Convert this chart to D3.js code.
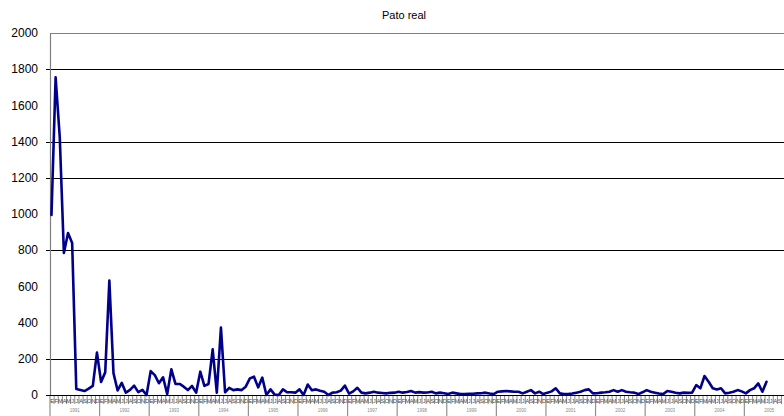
<!DOCTYPE html>
<html><head><meta charset="utf-8">
<script src="https://cdn.jsdelivr.net/npm/d3@7/dist/d3.min.js"></script>
<style>body{margin:0;background:#fff}svg{display:block}</style>
</head><body><svg id="c" width="784" height="416"></svg>
<script>
const title = "Pato real";
const years = ["1991","1992","1993","1994","1995","1996","1997","1998","1999","2000","2001","2002","2003","2004","2005"];
const monthLabels = ["E","F","M","A","M","J","J","A","S","O","N","D"];
const yTicks = [0,200,400,600,800,1000,1200,1400,1600,1800,2000];
const gridValues = [200,800,1200,1400,1800];
const values = [
  995,1755,1425,785,895,840,33,28,22,35,50,234,
  72,125,632,121,25,67,13,28,52,16,28,0,
  132,110,65,98,5,142,61,61,46,27,50,13,
  129,50,61,252,13,372,15,40,27,31,27,46,
  92,101,42,96,0,31,2,0,31,15,15,13,
  31,0,58,26,31,24,18,0,13,15,24,52,
  7,20,40,13,9,13,18,13,11,9,12,13,
  18,13,17,22,13,16,13,14,18,9,13,10,
  5,13,9,5,5,6,7,9,10,13,8,5,
  18,20,22,20,18,18,9,18,27,9,18,5,
  13,20,37,9,5,5,8,13,18,27,31,9,
  10,13,15,18,27,18,27,18,15,13,5,15,
  27,18,13,8,5,22,18,12,9,13,12,13,
  55,37,105,73,37,31,37,9,12,18,27,20,
  9,27,37,64,18,73
];

const svg = d3.select("#c");
const W = 784;
const nMonths = years.length * 12;
const x = d3.scaleLinear().domain([0, nMonths]).range([50, 50 + nMonths * 4.133]);
const y = d3.scaleLinear().domain([0, 2000]).range([395, 33]);

// title
svg.append("text").attr("x", 404).attr("y", 19).attr("text-anchor", "middle")
  .attr("font-family", "Liberation Sans, Arial, sans-serif").attr("font-size", 11)
  .attr("fill", "#000").text(title);

// top border
svg.append("line").attr("x1", 50).attr("x2", W).attr("y1", y(2000)).attr("y2", y(2000))
  .attr("stroke", "#808080").attr("stroke-width", 1).attr("shape-rendering", "crispEdges");

// gridlines
svg.append("g").selectAll("line").data(gridValues).join("line")
  .attr("x1", 46).attr("x2", W).attr("y1", d => Math.round(y(d)) + 0.5).attr("y2", d => Math.round(y(d)) + 0.5)
  .attr("stroke", "#000").attr("stroke-width", 1);

// y axis labels
svg.append("g").selectAll("text").data(yTicks).join("text")
  .attr("x", 38).attr("y", d => y(d)).attr("dy", "0.35em").attr("text-anchor", "end")
  .attr("font-family", "Liberation Sans, Arial, sans-serif").attr("font-size", 12)
  .attr("fill", "#000").text(d => d);

// y axis line
svg.append("line").attr("x1", 50.5).attr("x2", 50.5).attr("y1", y(2000)).attr("y2", 396)
  .attr("stroke", "#808080").attr("stroke-width", 1.2);

// month ticks
const bounds = d3.range(0, nMonths + 1).filter(d => x(d) <= W);
svg.append("g").selectAll("line").data(bounds).join("line")
  .attr("x1", d => x(d)).attr("x2", d => x(d))
  .attr("y1", 395).attr("y2", d => d % 12 === 0 ? 416 : 404)
  .attr("stroke", d => d % 12 === 0 ? "#909090" : "#555")
  .attr("stroke-width", d => d % 12 === 0 ? 1.2 : 0.7);

// month labels
const months = d3.range(nMonths).filter(d => x(d + 0.5) + 2.5 < W);
svg.append("g").selectAll("text").data(months).join("text")
  .attr("x", d => x(d + 0.5)).attr("y", 403).attr("text-anchor", "middle")
  .attr("font-family", "Liberation Sans, Arial, sans-serif").attr("font-size", 5.5)
  .attr("fill", "#444").text(d => monthLabels[d % 12]);

// year labels
svg.append("g").selectAll("text").data(years).join("text")
  .attr("x", (d, i) => x(i * 12 + 6)).attr("y", 412).attr("text-anchor", "middle")
  .attr("font-family", "Liberation Sans, Arial, sans-serif").attr("font-size", 4.5)
  .attr("fill", "#888").text(d => d);

// x axis line
svg.append("line").attr("x1", 46).attr("x2", W).attr("y1", 395.5).attr("y2", 395.5)
  .attr("stroke", "#000").attr("stroke-width", 1.2);

// data line
const line = d3.line().x((d, i) => x(i + 0.36)).y(d => y(d));
svg.append("path").datum(values).attr("d", line)
  .attr("fill", "none").attr("stroke", "#00008B").attr("stroke-width", 2.6)
  .attr("stroke-linejoin", "round").attr("stroke-linecap", "round");
</script></body></html>
